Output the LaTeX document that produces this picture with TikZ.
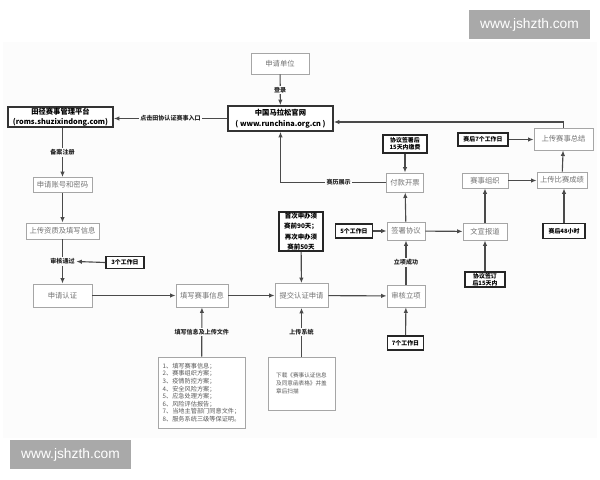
\documentclass[tikz,border=0pt]{standalone}
\usepackage{fontspec}
\setmainfont{Noto Sans CJK SC}
\newfontfamily\wmfont{Liberation Sans}
\usetikzlibrary{arrows.meta}
\definecolor{ln}{HTML}{4A4A4A}
\definecolor{bg}{HTML}{FCFCFC}
\definecolor{wm}{HTML}{A9A9A9}
\tikzset{
  wh/.style 2 args={minimum width=#1*0.025cm, minimum height=#2*0.025cm},
  pbox/.style={draw=gray!70, line width=0.5pt, fill=white, text=black!55,
    font=\fontsize{5.2}{6}\selectfont, inner sep=0pt, align=center},
  note/.style={draw=black!85, line width=1.1pt, fill=white, text=black,
    font=\bfseries\fontsize{4.2}{5.3}\selectfont, inner sep=0pt, align=center},
  site/.style={draw=black!80, line width=1.1pt, fill=white, text=black,
    font=\bfseries\fontsize{5.2}{7.5}\selectfont, inner sep=0pt, align=center},
  lab/.style={fill=bg, text=black!85, font=\bfseries\fontsize{4.3}{5}\selectfont, inner sep=0.8pt},
  arr/.style={draw=ln, line width=0.8pt, -{Latex[length=4pt,width=3.2pt]}},
  wmark/.style={fill=wm, text=white, font=\wmfont\fontsize{9.8}{11}\selectfont, inner sep=0pt}
}
\begin{document}
\begin{tikzpicture}[x=0.025cm, y=-0.025cm]
\path[use as bounding box, fill=white] (0,0) rectangle (600,480);
\fill[bg] (3,42) rectangle (597,438);
% watermarks
\node[wmark, wh={121}{29}] (wm1) at (529.5,24.5) {www.jshzth.com};
\node[wmark, wh={121}{29}] (wm2) at (70.5,454.5) {www.jshzth.com};

% nodes
\node[pbox, wh={58}{21}] (unit) at (280,63.5) {申请单位};
\node[site, wh={105}{25}] (site) at (280.5,118.5) {中国马拉松官网\\( www.runchina.org.cn )};
\node[site, wh={105}{20}] (roms) at (60.5,117) {田径赛事管理平台\\(roms.shuzixindong.com)};
\node[pbox, wh={59}{15}] (acct) at (62.5,185) {申请账号和密码};
\node[pbox, wh={73}{16}] (upq) at (62.5,231) {上传资质及填写信息};
\node[pbox, wh={59}{23}] (apply) at (62.5,295.5) {申请认证};
\node[pbox, wh={52}{23}] (fill) at (202,295.5) {填写赛事信息};
\node[pbox, wh={53}{24}] (submit) at (301.5,295.5) {提交认证申请};
\node[pbox, wh={38}{22}] (review) at (406,296) {审核立项};
\node[pbox, wh={38}{18}] (sign) at (406,231) {签署协议};
\node[pbox, wh={37}{19}] (pay) at (405,182.5) {付款开票};
\node[pbox, wh={44}{17}] (wenx) at (485,231.5) {文宣报道};
\node[pbox, wh={46}{15}] (org) at (485,180.5) {赛事组织};
\node[pbox, wh={50}{16}] (score) at (562,180) {上传比赛成绩};
\node[pbox, wh={59}{22}] (summ) at (563.5,139) {上传赛事总结};

\node[note, wh={38}{12}] (d3) at (125,262.5) {3个工作日};
\node[note, wh={44}{39}, font=\bfseries\fontsize{4.6}{7.5}\selectfont] (first) at (301,231.5) {首次申办须\\赛前90天；\\再次申办须\\赛前50天};
\node[note, wh={36}{14}] (d7) at (405.5,343) {7个工作日};
\node[note, wh={37}{14}] (d5) at (354,231) {5个工作日};
\node[note, wh={44}{18}] (d15a) at (405,144) {协议签署后\\15天内缴费};
\node[note, wh={40}{15}] (d15b) at (485,279.5) {协议签订\\后15天内};
\node[note, wh={42}{15}] (d48) at (564,231) {赛后48小时};
\node[note, wh={50}{13}] (d7b) at (483,139.5) {赛后7个工作日};

\node[pbox, wh={87}{71}, text=black!65, align=left, font=\fontsize{4.4}{5.4}\selectfont] (list) at (201.5,392.5)
  {1、填写赛事信息；\\2、赛事组织方案；\\3、疫情防控方案；\\4、安全风险方案；\\5、应急处理方案；\\6、风险评估报告；\\7、当地主管部门同意文件；\\8、服务系统三级等保证明。};
\node[pbox, wh={67}{53}, text=black!65, align=left, font=\fontsize{4}{5.6}\selectfont] (down) at (301.5,383.5)
  {下载《赛事认证信息\\及同意函表格》并盖\\章后扫描};

\coordinate (se) at ([yshift=-3.5*0.025cm]site.east);

% connectors
\draw[arr] (unit) -- node[lab] (l1) {登录} (site);
\draw[arr] (site.west) -- node[lab] (l2) {点击田协认证赛事入口} (site.west -| roms.east);
\draw[arr] (roms.south -| acct.north) -- node[lab] (l3) {备案注册} (acct.north);
\draw[arr] (acct) -- (upq);
\draw[arr] (upq) -- node[lab] (l4) {审核通过} (apply);
\draw[arr] (d3.west) -- (l4.east);
\draw[arr] (apply) -- (fill);
\draw[arr] (fill) -- (submit);
\draw[arr] (list) -- node[lab] (l5) {填写信息及上传文件} (fill);
\draw[arr] (down) -- node[lab] (l6) {上传系统} (submit);
\draw[arr] (first) -- (submit);
\draw[arr] (submit) -- (review);
\draw[arr] (d7) -- (review);
\draw[arr] (review) -- node[lab] (l7) {立项成功} (sign);
\draw[arr] (d5) -- (sign);
\draw[arr] (sign) -- (pay);
\draw[arr] (d15a) -- (pay);
\draw[arr] (pay.west) -- node[lab, pos=0.45] (l8) {赛历展示} (pay.west -| site.south) -- (site.south);
\draw[arr] (sign) -- (wenx);
\draw[arr] (d15b) -- (wenx);
\draw[arr] (wenx.north -| org.south) -- (org.south);
\draw[arr] (org) -- (org.east -| score.west);
\draw[arr] (d48) -- (score.south -| d48.north);
\draw[arr] (score) -- (summ);
\draw[arr] (d7b.east) -- (d7b.east -| summ.west);
\draw[arr] (summ.north) |- (se);
\end{tikzpicture}
\end{document}
